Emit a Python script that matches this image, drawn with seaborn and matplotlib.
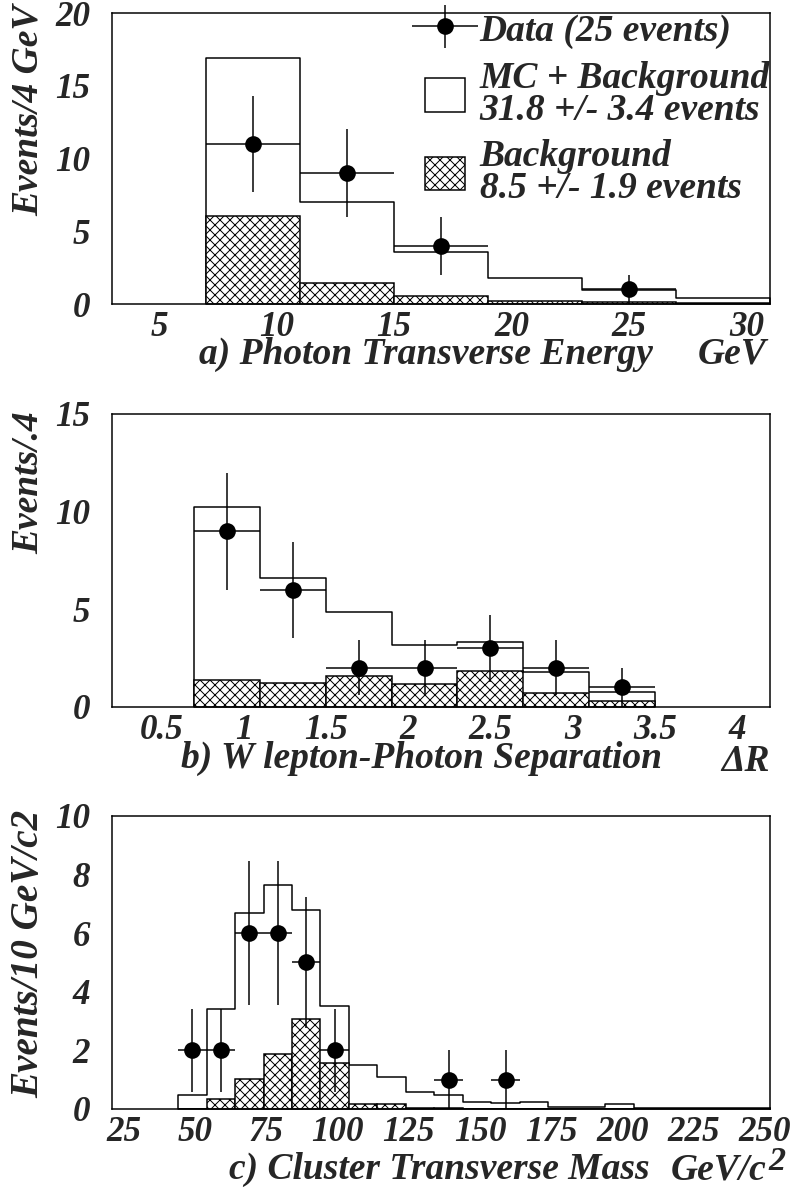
import numpy as np
import matplotlib
matplotlib.use('Agg')
import matplotlib.pyplot as plt
import seaborn as sns
from matplotlib.container import ErrorbarContainer
from matplotlib.legend_handler import HandlerErrorbar
from matplotlib.patches import Patch
from matplotlib.ticker import MultipleLocator

# a) photon transverse energy, 4 GeV bins
et_edges = [7, 11, 15, 19, 23, 27, 31]
et_mc = [16.9, 7.0, 3.57, 1.78, 0.94, 0.41]
et_bkg = [6.04, 1.42, 0.53, 0.23, 0.11, 0.05]
et_x = [9, 13, 17, 25]
et_y = [11, 9, 4, 1]
et_err = [3.3, 3.0, 2.0, 1.0]

# b) W lepton - photon separation, 0.4 bins
dr_edges = [0.7, 1.1, 1.5, 1.9, 2.3, 2.7, 3.1, 3.5]
dr_mc = [10.22, 6.58, 4.84, 3.18, 3.35, 1.79, 0.79]
dr_bkg = [1.37, 1.25, 1.61, 1.15, 1.85, 0.74, 0.32]
dr_x = [0.9, 1.3, 1.7, 2.1, 2.5, 2.9, 3.3]
dr_y = [9, 6, 2, 2, 3, 2, 1]
dr_err = [3.0, 2.45, 1.41, 1.41, 1.73, 1.41, 1.0]

# c) cluster transverse mass, 10 GeV bins
mt_edges = [44, 54, 64, 74, 84, 94, 104, 114, 124, 134, 144,
            154, 164, 174, 184, 194, 204, 214, 224, 234, 244, 254]
mt_mc = [0.48, 3.41, 6.68, 7.65, 6.80, 3.53, 1.49, 1.10, 0.58, 0.48, 0.25,
         0.20, 0.25, 0.07, 0.05, 0.16, 0.03, 0.02, 0.03, 0.04, 0.02]
mt_bkg = [0.0, 0.35, 1.02, 1.89, 3.08, 1.57, 0.18, 0.18, 0.02, 0.02, 0.01,
          0.01, 0.01, 0.0, 0.0, 0.0, 0.0, 0.0, 0.0, 0.0, 0.0]
mt_x = [49, 59, 69, 79, 89, 99, 139, 159]
mt_y = [2, 2, 6, 6, 5, 2, 1, 1]
mt_err = [1.41, 1.41, 2.45, 2.45, 2.24, 1.41, 1.0, 1.0]

legend_labels = ['Data (25 events)',
                 'MC + Background\n31.8 +/- 3.4 events',
                 'Background\n8.5 +/- 1.9 events']

sns.set_style('white')
plt.rcParams['font.family'] = ['Liberation Serif', 'DejaVu Serif']
plt.rcParams['font.weight'] = 'bold'
plt.rcParams['font.style'] = 'italic'
plt.rcParams['axes.labelweight'] = 'bold'
plt.rcParams['hatch.linewidth'] = 0.6
plt.rcParams['hatch.color'] = 'black'

LW = 0.9
TICK_FS = 21
LAB_FS = 22.5
HATCH = 'xxxx'


def draw_panel(ax, edges, mc, bkg, dx, dy, derr):
    e = np.asarray(edges, dtype=float)
    centers = list((e[:-1] + e[1:]) / 2)
    half = (e[1] - e[0]) / 2
    # MC + background as open step, background hatched on top
    sns.histplot(x=centers, weights=list(mc), bins=list(edges), element='step',
                 fill=True, facecolor='white', edgecolor='black',
                 linewidth=LW, ax=ax)
    sns.histplot(x=centers, weights=list(bkg), bins=list(edges), element='bars',
                 fill=True, facecolor='white', edgecolor='black', hatch=HATCH,
                 linewidth=LW, ax=ax)
    eb = ax.errorbar(dx, dy, xerr=half, yerr=derr, fmt='o', color='black',
                     ms=9, elinewidth=LW, capsize=0, zorder=5)
    ax.set_ylabel('')
    for s in ax.spines.values():
        s.set_linewidth(LW)
        s.set_color('black')
    ax.tick_params(which='both', direction='in', top=False, right=False,
                   width=LW, labelsize=TICK_FS)
    ax.tick_params(which='major', length=10)
    ax.tick_params(which='minor', length=5)
    ax.tick_params(axis='y', pad=13)
    ax.tick_params(axis='x', pad=4)
    return eb


fig = plt.figure(figsize=(797 / 120, 1195 / 120), dpi=120)
left, width = 0.1405, 0.8256
ax_a = fig.add_axes([left, 0.7456, width, 0.2435])
ax_b = fig.add_axes([left, 0.4084, width, 0.2452])
ax_c = fig.add_axes([left, 0.0720, width, 0.2452])

# panel a
eb = draw_panel(ax_a, et_edges, et_mc, et_bkg, et_x, et_y, et_err)
ax_a.set_xlim(3, 31)
ax_a.set_ylim(0, 20)
ax_a.xaxis.set_major_locator(MultipleLocator(5))
ax_a.xaxis.set_minor_locator(MultipleLocator(1))
ax_a.yaxis.set_major_locator(MultipleLocator(5))
ax_a.yaxis.set_minor_locator(MultipleLocator(1))
ax_a.set_xlabel('a) Photon Transverse Energy', fontsize=LAB_FS)
ax_a.xaxis.set_label_coords(0.477, -0.172)
ax_a.xaxis.label.set_va('center')
ax_a.text(0.995, -0.172, 'GeV', transform=ax_a.transAxes, ha='right',
          va='center', fontsize=LAB_FS)
ax_a.set_ylabel('Events/4 GeV', fontsize=LAB_FS, loc='top')
ax_a.yaxis.set_label_coords(-0.127, 1.03)
ax_a.yaxis.label.set_va('center')

handles = [eb,
           Patch(facecolor='white', edgecolor='black', linewidth=LW),
           Patch(facecolor='white', edgecolor='black', linewidth=LW, hatch=HATCH)]
leg = ax_a.legend(handles, legend_labels, loc='upper right',
                  bbox_to_anchor=(1.0, 1.005), frameon=False, fontsize=LAB_FS,
                  handlelength=1.05, handleheight=1.0, handletextpad=0.4,
                  borderaxespad=0, borderpad=0, labelspacing=0.3,
                  handler_map={ErrorbarContainer:
                               HandlerErrorbar(xerr_size=0.88, yerr_size=0.57)})
for t in leg.get_texts():
    t.set_linespacing(0.9)

# panel b
draw_panel(ax_b, dr_edges, dr_mc, dr_bkg, dr_x, dr_y, dr_err)
ax_b.set_xlim(0.2, 4.2)
ax_b.set_ylim(0, 15)
ax_b.xaxis.set_major_locator(MultipleLocator(0.5))
ax_b.xaxis.set_minor_locator(MultipleLocator(0.1))
ax_b.yaxis.set_major_locator(MultipleLocator(5))
ax_b.yaxis.set_minor_locator(MultipleLocator(1))
ax_b.set_xticks([0.5, 1, 1.5, 2, 2.5, 3, 3.5, 4])
ax_b.set_xticklabels(['0.5', '1', '1.5', '2', '2.5', '3', '3.5', '4'])
ax_b.set_xlabel('b) W lepton-Photon Separation', fontsize=LAB_FS)
ax_b.xaxis.set_label_coords(0.470, -0.177)
ax_b.xaxis.label.set_va('center')
ax_b.text(1.0, -0.185, '\u0394R', transform=ax_b.transAxes, ha='right',
          va='center', fontsize=LAB_FS)
ax_b.set_ylabel('Events/.4', fontsize=LAB_FS, loc='top')
ax_b.yaxis.set_label_coords(-0.127, 1.01)
ax_b.yaxis.label.set_va('center')

# panel c
draw_panel(ax_c, mt_edges, mt_mc, mt_bkg, mt_x, mt_y, mt_err)
ax_c.set_xlim(20.8, 251.8)
ax_c.set_ylim(0, 10)
ax_c.xaxis.set_major_locator(MultipleLocator(25))
ax_c.xaxis.set_minor_locator(MultipleLocator(5))
ax_c.yaxis.set_major_locator(MultipleLocator(2))
ax_c.yaxis.set_minor_locator(MultipleLocator(0.5))
ax_c.set_xlabel('c) Cluster Transverse Mass', fontsize=LAB_FS)
ax_c.xaxis.set_label_coords(0.497, -0.207)
ax_c.xaxis.label.set_va('center')
ax_c.text(0.994, -0.207, 'GeV/c', transform=ax_c.transAxes, ha='right',
          va='center', fontsize=LAB_FS)
ax_c.text(0.998, -0.18, '2', transform=ax_c.transAxes, ha='left',
          va='center', fontsize=LAB_FS - 2)
ax_c.set_ylabel('Events/10 GeV/c2', fontsize=LAB_FS + 1, loc='top')
ax_c.yaxis.set_label_coords(-0.127, 1.02)
ax_c.yaxis.label.set_va('center')

fig.savefig('out.png', dpi=120)
